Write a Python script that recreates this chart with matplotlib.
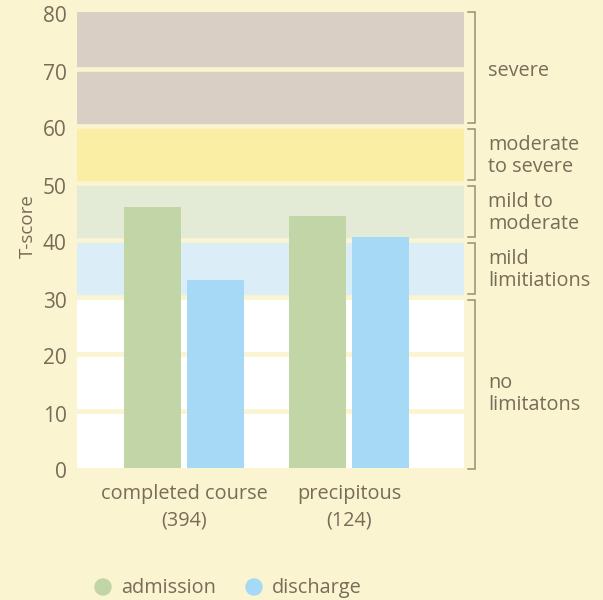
import matplotlib
matplotlib.use("Agg")
import matplotlib.pyplot as plt
from matplotlib.transforms import blended_transform_factory, ScaledTranslation
import numpy as np

categories = ["completed course", "precipitous"]
counts = ["(394)", "(124)"]
admission = [45.8, 44.2]
discharge = [33.0, 40.5]
yticks = [0, 10, 20, 30, 40, 50, 60, 70, 80]
band_lo = [0, 30, 40, 50, 60]
band_hi = [30, 40, 50, 60, 80]
band_labels = ["no\nlimitatons", "mild\nlimitiations", "mild to\nmoderate",
               "moderate\nto severe", "severe"]
band_colors = ["#FFFFFF", "#DBEEF8", "#E3EAD6", "#F9EEA4", "#D9CFC5"]
series_names = ["admission", "discharge"]
series_colors = ["#C2D5A7", "#A5D9F5"]

BG = "#FAF4D0"
TXT = "#7A6B58"
plt.rcParams['font.family'] = ['Open Sans', 'DejaVu Sans']

fig = plt.figure(figsize=(6.03, 6.00), dpi=100, facecolor=BG)
ax = fig.add_axes([77/603, 132/600, 387/603, 456/600])
ax.set_facecolor(BG)

for lo, hi, c in zip(band_lo, band_hi, band_colors):
    ax.axhspan(lo, hi, color=c, zorder=0, lw=0)
for t in yticks[1:-1]:
    ax.axhline(t, color=BG, lw=3.4, zorder=1)

x = np.arange(len(categories))
w = 0.345
off = 0.19
ax.bar(x - off, admission, w, color=series_colors[0], zorder=2, lw=0)
ax.bar(x + off, discharge, w, color=series_colors[1], zorder=2, lw=0)

ax.set_xlim(-0.648, 1.697)
ax.set_ylim(0, 80)
ax.set_yticks(yticks)
ax.set_yticklabels([])
ax.tick_params(axis='y', length=0)
ax.set_xticks([])
for s in ax.spines.values():
    s.set_visible(False)

tr = blended_transform_factory(ax.transAxes, ax.transData)
shift = ScaledTranslation(0, -5/100, fig.dpi_scale_trans)
for t in yticks:
    ax.text(-0.027, t, str(t), transform=tr + shift, ha='right', va='center',
            fontsize=15, color=TXT, clip_on=False)
ax.text(-0.127, 42.5, "T-score", transform=tr, rotation=90, ha='center', va='center',
        fontsize=13.5, color=TXT)

# category labels
for xi, cat, n in zip(x, categories, counts):
    ax.text(xi, -4.5, cat, ha='center', va='center', fontsize=14.3, color=TXT, clip_on=False)
    ax.text(xi, -9.2, n, ha='center', va='center', fontsize=14.3, color=TXT, clip_on=False)

# brackets
bx = 1.028
bt = 1.010
bc = "#9C8C78"
for lo, hi, lab in zip(band_lo, band_hi, band_labels):
    a = lo + 0.45 if lo > 0 else -0.1
    b = hi - 0.45 if hi < 80 else 80
    ax.plot([bt, bx, bx, bt], [a, a, b, b], transform=tr, color=bc, lw=1.1,
            clip_on=False, solid_joinstyle='miter')
    ymid = (lo + hi) / 2 - (2.0 if lo == 0 else 0.3)
    ax.text(1.063, ymid, lab, transform=tr, ha='left', va='center',
            fontsize=14.3, color=TXT, linespacing=1.1)

# legend
lx = [103, 254]
for px, name, c in zip(lx, series_names, series_colors):
    fig.patches.append(matplotlib.patches.Ellipse((px/603, 1 - 587/600), 16/603, 16/600,
                                                  transform=fig.transFigure, color=c))
    fig.text((px + 18)/603, 1 - 588/600, name, ha='left', va='center', fontsize=14.3, color=TXT)

fig.savefig("out.png", dpi=100, facecolor=BG)
